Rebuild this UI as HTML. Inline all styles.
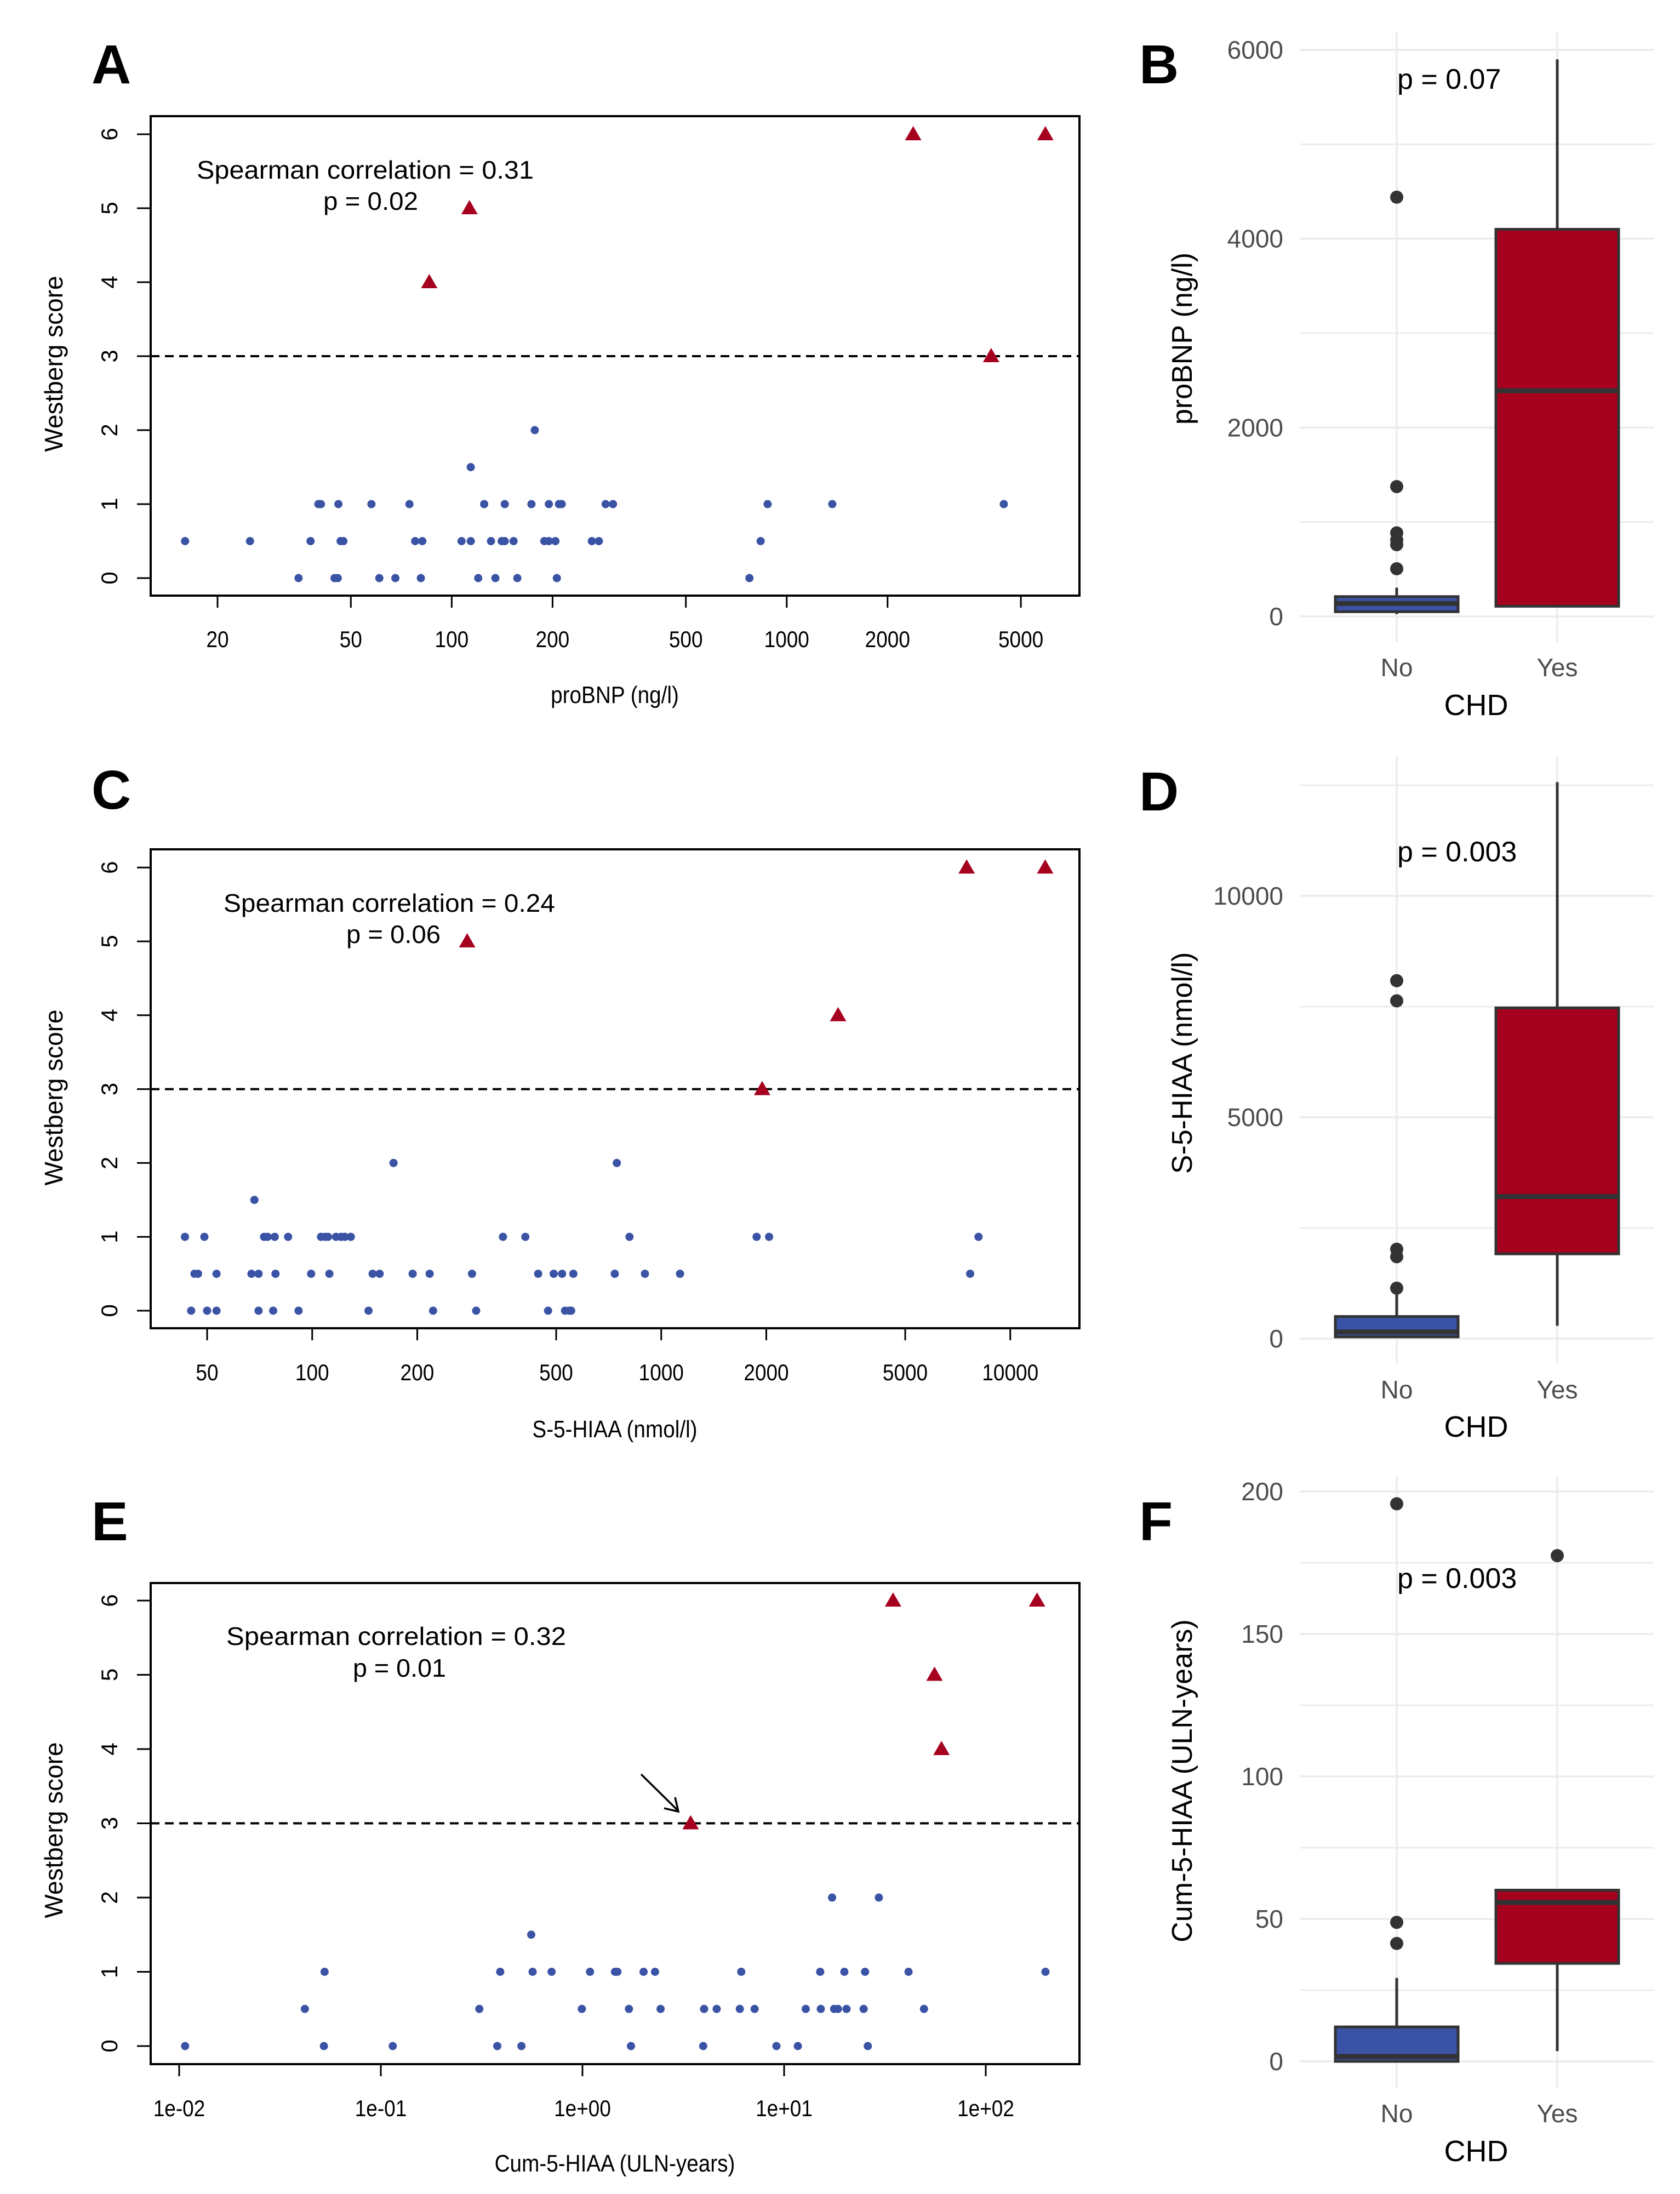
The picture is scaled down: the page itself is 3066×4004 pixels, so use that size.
<!DOCTYPE html>
<html><head><meta charset="utf-8"><style>
html,body{margin:0;padding:0;background:#fff}
svg{display:block}
text{font-family:"Liberation Sans",Arial,sans-serif}
</style></head><body>
<svg id="fig" width="3066" height="4004" viewBox="0 0 3066 4004" xmlns="http://www.w3.org/2000/svg"></svg>
<script>
// ---------- data ----------
const aCircX = [40,40.7,45.9,57.6,74.8,125,144,173,195,209,213,288,303,877,1368,4446,
  16,25,37.9,46.6,47.5,77.8,81.7,107,114,131,141,144,153,189,195,204,262,275,836,
  34.9,44.7,45.7,60.8,67.9,80.9,120,135,157,206,774,114,177];
const aCircY = [1,1,1,1,1,1,1,1,1,1,1,1,1,1,1,1,
  0.5,0.5,0.5,0.5,0.5,0.5,0.5,0.5,0.5,0.5,0.5,0.5,0.5,0.5,0.5,0.5,0.5,0.5,0.5,
  0,0,0,0,0,0,0,0,0,0,0,1.5,2];
const aTriX = [85.7,113,2385,4077,5916];
const aTriY = [4,5,6,3,6];
const aTicks = [20,50,100,200,500,1000,2000,5000];
const aTickLabels = ["20","50","100","200","500","1000","2000","5000"];

const cCircX = [43.2,49.1,72.8,74.5,78.1,85.3,106,109,111,117,121,124,129,352,408,811,1876,2037,8110,
  46,47.1,53.2,67,70.2,78.5,99.3,112,149,156,194,217,287,444,492,520,560,736,898,1132,7674,
  45,50,53.2,70.2,77.3,91.4,145,222,295,474,530,545,552,68.3,171,746];
const cCircY = [1,1,1,1,1,1,1,1,1,1,1,1,1,1,1,1,1,1,1,
  0.5,0.5,0.5,0.5,0.5,0.5,0.5,0.5,0.5,0.5,0.5,0.5,0.5,0.5,0.5,0.5,0.5,0.5,0.5,0.5,0.5,
  0,0,0,0,0,0,0,0,0,0,0,0,0,1.5,2,2];
const cTriX = [278,1946,3211,7499,12589];
const cTriY = [5,3,4,6,6];
const cTicks = [50,100,200,500,1000,2000,5000,10000];
const cTickLabels = ["50","100","200","500","1000","2000","5000","10000"];

const eCircX = [0.0526,0.391,0.566,0.703,1.09,1.45,1.49,2.01,2.29,6.13,15.1,19.9,25.2,41.4,197.7,
  0.042,0.308,0.993,1.70,2.44,4.01,4.63,6.03,7.14,12.8,15.2,17.7,18.5,20.4,24.8,49.4,
  0.0107,0.0522,0.1146,0.378,0.498,1.74,3.97,9.16,11.7,26.0,0.557,17.3,29.5];
const eCircY = [1,1,1,1,1,1,1,1,1,1,1,1,1,1,1,
  0.5,0.5,0.5,0.5,0.5,0.5,0.5,0.5,0.5,0.5,0.5,0.5,0.5,0.5,0.5,0.5,
  0,0,0,0,0,0,0,0,0,0,1.5,2,2];
const eTriX = [3.44,34.7,55.7,60.3,179.6];
const eTriY = [3,6,5,4,6];
const eTicks = [0.01,0.1,1,10,100];
const eTickLabels = ["1e-02","1e-01","1e+00","1e+01","1e+02"];

const boxGroups = ["No","Yes"];
const bStats = [[25,50,137,210,305],[100,108,2390,4100,5900]];
const bOutNo = [4440,1375,885,810,760,505];
const bOutYes = [];
const bTicks = [0,2000,4000,6000];
const bMinor = [1000,3000,5000];

const dStats = [[20,40,150,500,1030],[290,1915,3210,7470,12570]];
const dOutNo = [8085,7630,2020,1850,1140];
const dOutYes = [];
const dTicks = [0,5000,10000];
const dMinor = [2500,7500,12500];

const fStats = [[0,0,1.7,12.1,29.3],[3.6,34.4,55.8,60.1,60.1]];
const fOutNo = [195.7,48.8,41.4];
const fOutYes = [177.5];
const fTicks = [0,50,100,150,200];
const fMinor = [25,75,125,175];

// ---------- helpers ----------
const NS="http://www.w3.org/2000/svg";
const svg=document.getElementById('fig');
function mk(tag,attrs,parent,txt){const e=document.createElementNS(NS,tag);for(const k in attrs)e.setAttribute(k,attrs[k]);if(txt!==undefined)e.textContent=txt;(parent||svg).appendChild(e);return e;}
const BLUE="#3b53a5", RED="#a6001f", DARK="#333333";

function scatter(cfg){
  const g=mk('g',{});
  
  
  const L=275,R=1970,T=cfg.top,B=cfg.bottom;
  const sx=v=>cfg.x0+(Math.log10(v)-Math.log10(cfg.v0))*cfg.ppd;
  const sy=v=>cfg.y0-v*cfg.ppu;
  const lt=mk('text',{x:cfg.lx,y:cfg.ly,'font-size':100,'font-weight':'bold'},g,cfg.letter);
  
  
  const box=mk('rect',{x:L,y:T,width:R-L,height:B-T,fill:'none',stroke:'#000','stroke-width':4},g);
  
  
  for(let i=0;i<=6;i++){
    const y=sy(i);
    mk('line',{x1:L-25,x2:L,y1:y,y2:y,stroke:'#000','stroke-width':3},g);
    const t=mk('text',{x:0,y:0,'font-size':42,'text-anchor':'middle',transform:`translate(214,${y}) rotate(-90)`},g,String(i));
    
    
  }
  cfg.ticks.forEach((v,i)=>{
    const x=sx(v);
    mk('line',{x1:x,x2:x,y1:B,y2:B+22,stroke:'#000','stroke-width':3},g);
    const t=mk('text',{x:x,y:cfg.tly,'font-size':42,'text-anchor':'middle',transform:`translate(${x},0) scale(0.88,1) translate(${-x},0)`},g,cfg.tickLabels[i]);
    
    
  });
  const xt=mk('text',{x:1122,y:cfg.xty,'font-size':44,'text-anchor':'middle',transform:`translate(1122,0) scale(0.88,1) translate(-1122,0)`},g,cfg.xtitle);
  
  
  const yt=mk('text',{x:0,y:0,'font-size':46,'text-anchor':'middle',transform:`translate(114,${cfg.ytc}) rotate(-90)`},g,'Westberg score');
  
  
  const dl=mk('line',{x1:L,x2:R,y1:sy(3),y2:sy(3),stroke:'#000','stroke-width':4,'stroke-dasharray':'16 10'},g);
  
  
  const s1=mk('text',{x:cfg.sx1,y:cfg.sy1,'font-size':46,textLength:cfg.sw1,lengthAdjust:'spacingAndGlyphs'},g,cfg.sp);
  
  
  const s2=mk('text',{x:cfg.px,y:cfg.py,'font-size':46,textLength:cfg.pw,lengthAdjust:'spacingAndGlyphs'},g,cfg.pt);
  
  
  cfg.cx.forEach((v,i)=>{
    const c=mk('circle',{cx:sx(v),cy:sy(cfg.cy[i]),r:7.5,fill:BLUE},g);
    
    
  });
  cfg.tx.forEach((v,i)=>{
    const x=sx(v),y=sy(cfg.ty[i]);
    const p=mk('polygon',{points:`${x},${y-15} ${x-15},${y+11} ${x+15},${y+11}`,fill:RED},g);
    
    
  });
  return {g,sx,sy};
}

function boxplot(cfg){
  const g=mk('g',{});
  
  
  const GL=2372,GR=3018,xs=[2549,2842],hw=112;
  const sy=v=>cfg.y0-v*cfg.ppu;
  const lt=mk('text',{x:2079,y:cfg.ly,'font-size':100,'font-weight':'bold'},g,cfg.letter);
  
  
  cfg.minor.forEach(v=>{mk('line',{x1:GL,x2:GR,y1:sy(v),y2:sy(v),stroke:'#ececec','stroke-width':3},g);});
  cfg.ticks.forEach(v=>{
    mk('line',{x1:GL,x2:GR,y1:sy(v),y2:sy(v),stroke:'#ebebeb','stroke-width':3.5},g);
    const t=mk('text',{x:2342,y:sy(v)+16,'font-size':46,'text-anchor':'end',fill:'#4d4d4d'},g,String(v));
    
    
  });
  xs.forEach(x=>mk('line',{x1:x,x2:x,y1:cfg.vt,y2:cfg.vb,stroke:'#ebebeb','stroke-width':3.5},g));
  boxGroups.forEach((name,i)=>{
    const x=xs[i],s=cfg.stats[i];
    mk('line',{x1:x,x2:x,y1:sy(s[0]),y2:sy(s[4]),stroke:DARK,'stroke-width':5},g);
    const r=mk('rect',{x:x-hw,y:sy(s[3]),width:2*hw,height:Math.max(2,sy(s[1])-sy(s[3])),fill:i?RED:BLUE,stroke:DARK,'stroke-width':5},g);
    
    
    mk('line',{x1:x-hw,x2:x+hw,y1:sy(s[2]),y2:sy(s[2]),stroke:DARK,'stroke-width':9},g);
    (i?cfg.outYes:cfg.outNo).forEach(v=>{
      const c=mk('circle',{cx:x,cy:sy(v),r:12,fill:DARK},g);
      
      
    });
    const t=mk('text',{x:x,y:cfg.xly,'font-size':46,'text-anchor':'middle',fill:'#4d4d4d'},g,name);
    
    
  });
  const xt=mk('text',{x:2694,y:cfg.xty,'font-size':54,'text-anchor':'middle'},g,'CHD');
  
  
  const yt=mk('text',{x:0,y:0,'font-size':52,'text-anchor':'middle',transform:`translate(2175,${cfg.ytc}) rotate(-90)`},g,cfg.ytitle);
  
  
  const p=mk('text',{x:2550,y:cfg.py,'font-size':52},g,cfg.pt);
  
  
}

scatter({name:'panel-a-scatter',letter:'A',lx:167,ly:152,top:212,bottom:1087,y0:1055,ppu:135,
  x0:397,v0:20,ppd:611.4,ticks:aTicks,tickLabels:aTickLabels,tly:1181,xty:1283,xtitle:'proBNP (ng/l)',ytc:664,
  sp:'Spearman correlation =  0.31',sx1:359,sy1:326,sw1:615,pt:'p = 0.02',px:590,py:383,pw:173,
  cx:aCircX,cy:aCircY,tx:aTriX,ty:aTriY});
scatter({name:'panel-c-scatter',letter:'C',lx:167,ly:1476,top:1550,bottom:2424,y0:2392,ppu:134.8,
  x0:378,v0:50,ppd:637,ticks:cTicks,tickLabels:cTickLabels,tly:2519,xty:2623,xtitle:'S-5-HIAA (nmol/l)',ytc:2003,
  sp:'Spearman correlation = 0.24',sx1:408,sy1:1664,sw1:605,pt:'p = 0.06',px:632,py:1721,pw:172,
  cx:cCircX,cy:cCircY,tx:cTriX,ty:cTriY});
const e=scatter({name:'panel-e-scatter',letter:'E',lx:167,ly:2811,top:2889,bottom:3767,y0:3734,ppu:135.5,
  x0:327,v0:0.01,ppd:368,ticks:eTicks,tickLabels:eTickLabels,tly:3862,xty:3963,xtitle:'Cum-5-HIAA (ULN-years)',ytc:3340,
  sp:'Spearman correlation =  0.32',sx1:413,sy1:3002,sw1:620,pt:'p = 0.01',px:644,py:3060,pw:170,
  cx:eCircX,cy:eCircY,tx:eTriX,ty:eTriY});
// arrow in E
const ar=mk('g',{},e.g);


mk('line',{x1:1170,y1:3238,x2:1237,y2:3304,stroke:'#000','stroke-width':3.5},ar);
mk('polyline',{points:'1212,3300 1238,3306 1232,3280',fill:'none',stroke:'#000','stroke-width':3.5},ar);

boxplot({name:'panel-b-boxplot',letter:'B',ly:152,y0:1125,ppu:1034/6000,ticks:bTicks,minor:bMinor,vt:59,vb:1172,
  stats:bStats,outNo:bOutNo,outYes:bOutYes,xly:1234,xty:1305,ytitle:'proBNP (ng/l)',ytc:618,pt:'p = 0.07',py:162});
boxplot({name:'panel-d-boxplot',letter:'D',ly:1479,y0:2443,ppu:808/10000,ticks:dTicks,minor:dMinor,vt:1380,vb:2488,
  stats:dStats,outNo:dOutNo,outYes:dOutYes,xly:2552,xty:2622,ytitle:'S-5-HIAA (nmol/l)',ytc:1940,pt:'p = 0.003',py:1572});
boxplot({name:'panel-f-boxplot',letter:'F',ly:2811,y0:3762,ppu:1040/200,ticks:fTicks,minor:fMinor,vt:2694,vb:3810,
  stats:fStats,outNo:fOutNo,outYes:fOutYes,xly:3873,xty:3944,ytitle:'Cum-5-HIAA (ULN-years)',ytc:3250,pt:'p = 0.003',py:2898});
</script>
</body></html>
